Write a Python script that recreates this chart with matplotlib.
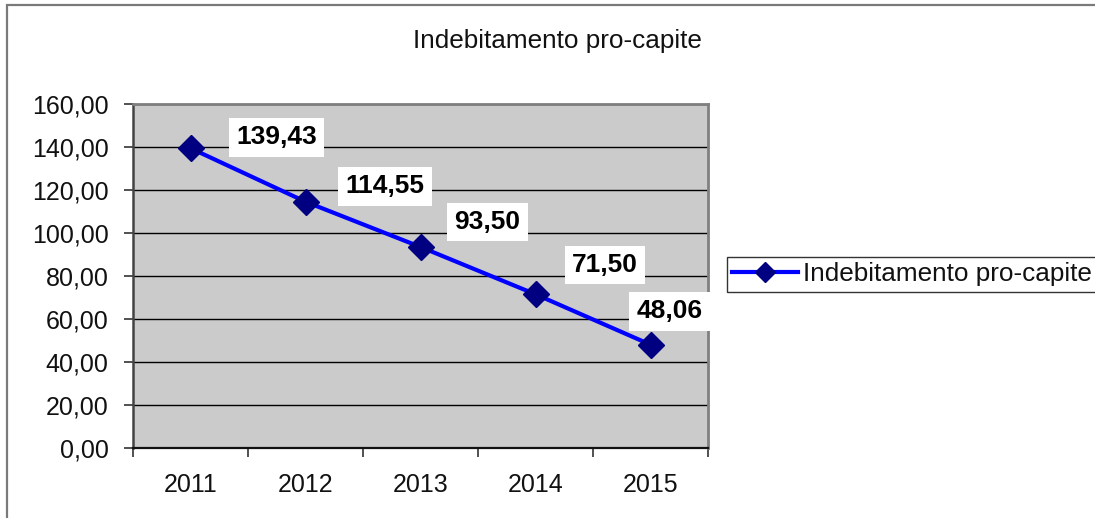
import matplotlib
matplotlib.use("Agg")
import matplotlib.pyplot as plt
from matplotlib.patches import Rectangle
from matplotlib.ticker import FixedLocator, FuncFormatter

# ---- data ----
years = ["2011", "2012", "2013", "2014", "2015"]
values = [139.43, 114.55, 93.50, 71.50, 48.06]
series_name = "Indebitamento pro-capite"
title = "Indebitamento pro-capite"
y_ticks = [0, 20, 40, 60, 80, 100, 120, 140, 160]

# label offsets (points) - layout only
label_offsets = [(62, 8), (57, 11), (48, 18), (50, 21), (14, 24)]

plt.rcParams['font.family'] = ['Liberation Sans', 'DejaVu Sans']
FS_TICK = 18
FS_TEXT = 18.8
FS_LABEL = 19

fig = plt.figure(figsize=(10.95, 5.18), dpi=100)
W, H = 1095, 518

# outer frame
fig.patches.append(Rectangle((7 / W, 0 - 0.05), 1.2, 1 - 5 / H + 0.05, transform=fig.transFigure,
                             fill=False, edgecolor='#7a7a7a', linewidth=1.6, zorder=0))

ax = fig.add_axes([133 / W, 1 - 448 / H, (708 - 133) / W, (448 - 104) / H])
ax.set_facecolor('#cbcbcb')

x = list(range(len(years)))
ax.plot(x, values, color='#0000ff', linewidth=3, marker='D', markersize=13,
        markerfacecolor='#000080', markeredgecolor='#000080', label=series_name, zorder=3)

ax.set_xlim(-0.5, len(years) - 0.5)
ax.set_ylim(0, 160)
ax.yaxis.set_major_locator(FixedLocator(y_ticks))
ax.yaxis.set_major_formatter(FuncFormatter(lambda v, p: f"{v:.2f}".replace('.', ',')))
ax.grid(axis='y', color='black', linewidth=1.0)
ax.set_axisbelow(True)

# x: category boundaries as major ticks, labels at centers
ax.xaxis.set_major_locator(FixedLocator([i - 0.5 for i in range(len(years) + 1)]))
ax.xaxis.set_major_formatter(FuncFormatter(lambda v, p: ""))
ax.xaxis.set_minor_locator(FixedLocator(x))
ax.set_xticklabels(years, minor=True)
ax.tick_params(axis='x', which='major', direction='out', length=6.5, width=1.2, color='#333333')
ax.tick_params(axis='x', which='minor', length=0, pad=18, labelsize=FS_TICK, labelcolor='#111111')
ax.tick_params(axis='y', direction='out', length=6.5, width=1.2, pad=11, labelsize=FS_TICK,
               labelcolor='#111111', color='#333333')

for side, c, lw in [('left', '#444444', 1.8), ('bottom', '#111111', 1.6),
                    ('top', '#808080', 2.0), ('right', '#808080', 2.0)]:
    ax.spines[side].set_color(c)
    ax.spines[side].set_linewidth(lw)

for xi, v, off in zip(x, values, label_offsets):
    ax.annotate(f"{v:.2f}".replace('.', ','), xy=(xi, v), xytext=off,
                textcoords='offset points', ha='center', va='center',
                fontsize=FS_LABEL, fontweight='bold', color='black',
                bbox=dict(boxstyle='square,pad=0.28', facecolor='white', edgecolor='none'),
                zorder=4)

fig.text(557 / W, 1 - 41 / H, title, ha='center', va='center', fontsize=FS_TEXT, color='#111111')

leg = ax.legend(loc='center left', bbox_to_anchor=(727 / W, 1 - 274.5 / H),
                bbox_transform=fig.transFigure, fontsize=FS_TEXT, frameon=True, fancybox=False,
                edgecolor='black', borderpad=0.2, handlelength=2.5, handletextpad=0.2,
                borderaxespad=0, markerscale=0.8)
leg.get_frame().set_linewidth(1.0)
for t in leg.get_texts():
    t.set_color('#111111')

fig.savefig("out.png", dpi=100)
